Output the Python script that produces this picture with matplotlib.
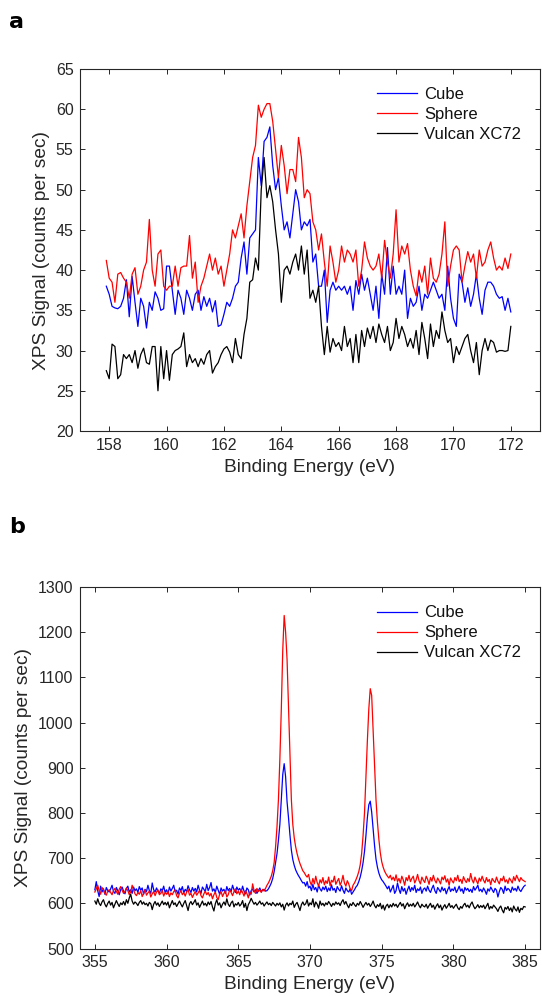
import numpy as np
import matplotlib
matplotlib.use("Agg")
import matplotlib.pyplot as plt

plt.rcParams['font.family'] = ['Liberation Sans', 'DejaVu Sans']

# ---------------- Panel a data (S 2p region) ----------------
energy_a_start, energy_a_step = 157.9, 0.1

cube_a = [38,
    37, 35.5, 35.3, 35.2, 35.5, 36.5, 38.8, 34.2, 39.2, 36,
    33, 36.5, 35.5, 32.8, 36, 35, 37.3, 36.5, 35, 35.2,
    40.5, 40.5, 37.5, 34.5, 37.5, 36.5, 34.5, 37.5, 36.5, 35,
    37, 37.5, 35, 36.7, 35.5, 36.5, 34.8, 36.2, 33, 33.2,
    34.5, 36, 35.5, 36.5, 38, 38.5, 41.5, 43.5, 39.5, 44,
    44.5, 45, 54, 50.5, 56, 56.5, 57.8, 53, 50, 51.5,
    48, 45, 46, 44, 47, 50, 48.5, 45, 46, 45.5,
    46.3, 41, 42, 38, 38, 40, 33.5, 37.5, 38.5, 37.5,
    38, 37.5, 38, 37, 38, 35, 38.7, 37, 39.5, 37.5,
    39, 37, 35, 38, 34, 39.5, 37, 42.8, 37, 40.5,
    37, 38, 37, 40, 34, 36.5, 35.5, 36, 38, 35,
    37, 36.5, 37.5, 38.5, 37.5, 36.5, 37, 35, 40.5, 36.5,
    34, 33, 39.5, 38.5, 36, 37.8, 35.5, 37, 39.5, 36.5,
    34.5, 37.5, 38.5, 38.5, 38, 37, 36.5, 36.7, 35, 36.5,
    34.8]

sphere_a = [41.2,
    39, 38.5, 36, 39.5, 39.7, 39, 38.5, 36.5, 39.5, 40.3,
    37, 38, 40, 41, 46.3, 40, 38, 42, 42.5, 38,
    37.5, 38, 38, 40.5, 38, 40.3, 40.5, 40.5, 44.3, 39,
    41, 36, 38, 39, 40.5, 42, 40, 41.5, 39.5, 40.5,
    38, 40, 42, 45, 44, 45.5, 47, 44, 48, 51,
    54, 55.5, 60.5, 59, 60, 60.7, 60.7, 58.5, 55, 51.5,
    55.5, 53, 49.5, 52.5, 52.5, 51, 56.5, 54, 49, 50,
    49.5, 46, 45, 42.5, 44.5, 41, 38, 43, 41, 38.5,
    40, 43, 41, 42.5, 42, 41, 42.5, 38, 40, 43.5,
    41.5, 40.5, 40, 40.5, 42, 39, 43.7, 41, 39, 42,
    47.5, 41, 43, 42, 43.3, 40, 38, 36.8, 40, 38.5,
    40.5, 37, 41.5, 39, 38.5, 39.5, 42, 46, 38, 40.5,
    42.5, 43, 42.5, 38.5, 40.5, 42.3, 41, 42, 39, 42.5,
    40.5, 41, 42.5, 43.5, 41.5, 40, 40.5, 40, 41.5, 40.2,
    42]

vulcan_a = [27.5,
    26.5, 30.8, 30.5, 26.5, 27, 29.5, 29, 29.5, 28.5, 30,
    27.8, 29.5, 30.3, 28.5, 28.3, 30.5, 30.5, 25, 30.5, 26.5,
    30, 26.3, 29.5, 30, 30.2, 30.5, 32.2, 28, 29.5, 28.5,
    29, 28, 29, 28.3, 29.5, 30, 27.2, 28, 28.5, 29.5,
    30.2, 30.5, 29.8, 28.5, 31.5, 29.5, 29, 32, 34, 38.5,
    38.8, 41.5, 40, 50, 54, 49, 50.5, 48.5, 45, 42,
    36, 40, 40.5, 39.5, 41, 42, 40, 43, 39.5, 42.5,
    36.5, 37.5, 36, 38, 33, 29.5, 33, 29.8, 31.5, 30.5,
    31, 30, 33, 30.5, 31.5, 28.5, 32, 28.5, 32.5, 30.5,
    32.8, 31.5, 33, 31, 33.3, 32, 31, 33, 30, 31,
    34, 31.5, 33, 32, 30.5, 31.5, 30.3, 32.5, 29.5, 33.5,
    31.5, 29, 33.3, 30.5, 32.5, 31.5, 34.8, 32.5, 31, 31.5,
    28.5, 30.5, 29.5, 30.5, 31.5, 32, 30, 28.5, 31, 27,
    30, 31.5, 30, 31.3, 31, 29.8, 30, 30, 29.9, 30,
    33]

# ---------------- Panel b data (Pd 3d region) ----------------
energy_b_start, energy_b_step = 355.0, 0.1

cube_b = [
    630, 648, 628, 615, 638, 625, 632, 620, 635, 628,
    625, 632, 640, 626, 622, 635, 628, 619, 630, 636,
    627, 621, 633, 638, 625, 630, 622, 636, 628, 632,
    624, 637, 629, 634, 620, 631, 626, 640, 628, 622,
    645, 630, 625, 634, 627, 622, 632, 628, 638, 624,
    630, 621, 636, 627, 633, 640, 625, 629, 620, 634,
    628, 637, 623, 631, 626, 639, 630, 624, 635, 627,
    633, 625, 640, 629, 622, 636, 631, 626, 642, 628,
    635, 646, 627, 632, 624, 638, 629, 620, 634, 627,
    631, 622, 637, 628, 633, 626, 640, 630, 624, 636,
    629, 633, 625, 638, 627, 621, 634, 630, 618, 628,
    632, 625, 630, 622, 628, 634, 626, 629, 631, 627,
    628, 632, 638, 645, 655, 670, 690, 710, 740, 775,
    830, 885, 909, 880, 825, 790, 752, 718, 697, 684,
    674, 667, 661, 656, 650, 645, 646, 638, 648, 634,
    638, 628, 642, 630, 635, 625, 640, 632, 627, 636,
    630, 638, 626, 634, 628, 641, 629, 633, 624, 637,
    631, 627, 639, 629, 622, 634, 628, 625, 632, 620,
    625, 630, 636, 640, 648, 658, 672, 690, 715, 750,
    790, 818, 826, 802, 765, 728, 698, 680, 667, 658,
    652, 648, 643, 638, 632, 638, 625, 632, 640, 622,
    628, 645, 631, 622, 637, 627, 633, 620, 630, 638,
    626, 635, 629, 640, 624, 632, 628, 636, 622, 631,
    634, 627, 638, 629, 624, 633, 640, 628, 622, 635,
    630, 625, 636, 628, 633, 621, 630, 637, 626, 632,
    628, 636, 624, 630, 638, 627, 632, 622, 635, 629,
    633, 626, 631, 624, 637, 629, 634, 640, 627, 631,
    625, 634, 628, 620, 632, 627, 636, 630, 624, 633,
    629, 614, 626, 635, 631, 622, 638, 628, 633, 630,
    624, 636, 629, 633, 627, 638, 630, 626, 632, 637,
    640]

sphere_b = [
    625, 632, 640, 628, 620, 635, 630, 622, 618, 627,
    630, 624, 619, 628, 633, 626, 620, 631, 637, 629,
    622, 626, 634, 628, 619, 625, 640, 630, 621, 617,
    624, 620, 628, 615, 622, 630, 618, 623, 627, 614,
    621, 626, 617, 625, 630, 619, 622, 628, 616, 624,
    620, 627, 615, 623, 619, 626, 630, 617, 612, 622,
    628, 619, 624, 616, 625, 631, 618, 622, 613, 620,
    626, 618, 623, 629, 617, 612, 621, 627, 619, 624,
    616, 622, 610, 619, 625, 613, 608, 620, 626, 615,
    622, 628, 614, 619, 630, 624, 617, 626, 632, 621,
    627, 619, 630, 624, 616, 628, 622, 612, 625, 620,
    643, 628, 622, 633, 626, 630, 624, 631, 627, 633,
    640, 645, 652, 660, 672, 690, 725, 770, 830, 920,
    1030, 1160, 1237, 1200, 1140, 1035, 935, 830, 775, 745,
    725, 710, 698, 688, 680, 672, 668, 662, 658, 664,
    648, 640, 655, 643, 660, 646, 638, 652, 645, 657,
    641, 650, 644, 658, 639, 651, 647, 660, 642, 649,
    655, 640, 648, 662, 645, 638, 650, 643, 632, 628,
    640, 645, 652, 660, 670, 685, 710, 750, 800, 880,
    960, 1030, 1075, 1060, 985, 905, 830, 780, 742, 712,
    692, 680, 671, 665, 660, 656, 662, 652, 658, 650,
    663, 648, 655, 645, 660, 652, 640, 657, 650, 662,
    648, 655, 660, 645, 652, 664, 650, 643, 658, 651,
    646, 660, 653, 642, 657, 649, 662, 651, 645, 656,
    650, 643, 658, 652, 661, 647, 654, 640, 656, 650,
    645, 657, 650, 662, 648, 653, 644, 659, 651, 646,
    655, 648, 666, 652, 645, 658, 650, 643, 656, 649,
    660, 651, 645, 657, 648, 653, 641, 655, 650, 646,
    658, 649, 643, 655, 650, 660, 647, 652, 644, 656,
    651, 645, 659, 650, 662, 655, 648, 657, 652, 650,
    648]

vulcan_b = [
    605, 598, 610, 600, 595, 603, 608, 598, 592, 600,
    605, 596, 602, 590, 598, 606, 599, 593, 601, 597,
    604, 596, 608, 600, 612, 620, 605, 598, 603, 600,
    595, 602, 606, 598, 603, 597, 600, 594, 602, 599,
    586, 598, 604, 596, 601, 593, 599, 605, 597, 602,
    596, 603, 590, 598, 606, 597, 601, 593, 599, 605,
    598, 592, 600, 606, 595, 584, 599, 604, 597, 602,
    608, 596, 601, 591, 598, 605, 596, 600, 594, 603,
    597, 604, 592, 583, 599, 608, 596, 601, 590, 598,
    603, 596, 610, 598, 593, 601, 605, 592, 599, 596,
    602, 594, 598, 606, 591, 600, 584, 597, 603, 611,
    604, 598, 602, 596, 600, 605, 598, 601, 594, 599,
    603, 597, 600, 595, 602, 598, 594, 600, 596, 601,
    592, 598, 585, 596, 601, 594, 600, 597, 605, 591,
    598, 602, 593, 584, 597, 603, 596, 599, 608, 594,
    601, 597, 610, 592, 603, 598, 589, 605, 596, 600,
    594, 601, 597, 604, 599, 593, 600, 596, 603, 598,
    601, 595, 603, 608, 598, 604, 596, 590, 599, 595,
    602, 597, 593, 600, 596, 604, 598, 591, 597, 602,
    596, 600, 593, 598, 605, 595, 590, 597, 593, 600,
    588, 596, 585, 594, 598, 590, 597, 592, 600, 594,
    598, 591, 597, 602, 594, 599, 588, 596, 601, 593,
    598, 594, 600, 592, 597, 603, 595, 590, 598, 594,
    592, 598, 589, 595, 600, 591, 596, 587, 594, 599,
    590, 596, 585, 592, 597, 589, 594, 600, 591, 595,
    589, 594, 598, 590, 586, 593, 589, 596, 600, 592,
    596, 590, 598, 603, 594, 588, 592, 597, 590, 595,
    591, 596, 588, 594, 600, 587, 593, 589, 596, 592,
    588, 582, 590, 594, 585, 579, 591, 587, 593, 584,
    590, 581, 594, 587, 583, 592, 580, 589, 586, 593,
    592]

series_labels = ["Cube", "Sphere", "Vulcan XC72"]
series_colors = ["#0000ff", "#ff0000", "#000000"]

xticks_a = [158, 160, 162, 164, 166, 168, 170, 172]
yticks_a = [20, 25, 30, 35, 40, 45, 50, 55, 60, 65]
xticks_b = [355, 360, 365, 370, 375, 380, 385]
yticks_b = [500, 600, 700, 800, 900, 1000, 1100, 1200, 1300]

x_a = np.round(energy_a_start + energy_a_step * np.arange(len(cube_a)), 2)
x_b = np.round(energy_b_start + energy_b_step * np.arange(len(cube_b)), 2)

W, H = 542, 996
fig = plt.figure(figsize=(W / 100, H / 100), dpi=100)

txt_col = "#262626"

def style_axes(ax, xlim, ylim, xt, yt):
    ax.set_xlim(*xlim)
    ax.set_ylim(*ylim)
    ax.set_xticks(xt)
    ax.set_yticks(yt)
    ax.tick_params(direction='in', top=True, right=True, length=3.5,
                   width=0.7, labelsize=11.5, colors=txt_col, pad=5)
    for sp in ax.spines.values():
        sp.set_color(txt_col)
        sp.set_linewidth(0.8)
    ax.set_xlabel("Binding Energy (eV)", fontsize=13.8, color=txt_col, labelpad=4)
    ax.set_ylabel("XPS Signal (counts per sec)", fontsize=13.8, color=txt_col, labelpad=4)

def add_legend(ax, anchor):
    leg = ax.legend(loc='upper left', bbox_to_anchor=anchor, frameon=False,
                    fontsize=12, handlelength=2.45, handletextpad=0.4,
                    labelspacing=0.3, borderpad=0, borderaxespad=0)
    for t in leg.get_texts():
        t.set_color("#111111")

left = 80.5 / W
width = 459 / W

ax1 = fig.add_axes([left, 1 - 431 / H, width, 362 / H])
for ys, lab, col in zip([cube_a, sphere_a, vulcan_a], series_labels, series_colors):
    ax1.plot(x_a, ys, color=col, lw=0.9, label=lab)
style_axes(ax1, (157, 173), (20, 65), xticks_a, yticks_a)
add_legend(ax1, (0.645, 0.951))

ax2 = fig.add_axes([left, 1 - 948.5 / H, width, 361.5 / H])
for ys, lab, col in zip([cube_b, sphere_b, vulcan_b], series_labels, series_colors):
    ax2.plot(x_b, ys, color=col, lw=0.9, label=lab)
style_axes(ax2, (354, 386), (500, 1300), xticks_b, yticks_b)
add_legend(ax2, (0.645, 0.949))

fig.text(9 / W, 1 - 28 / H, "a", fontsize=16, fontweight='bold',
         family='DejaVu Sans', va='baseline', ha='left', color='black')
fig.text(9 / W, 1 - 533 / H, "b", fontsize=16, fontweight='bold',
         family='DejaVu Sans', va='baseline', ha='left', color='black')

fig.savefig("out.png", dpi=100, facecolor='white')
